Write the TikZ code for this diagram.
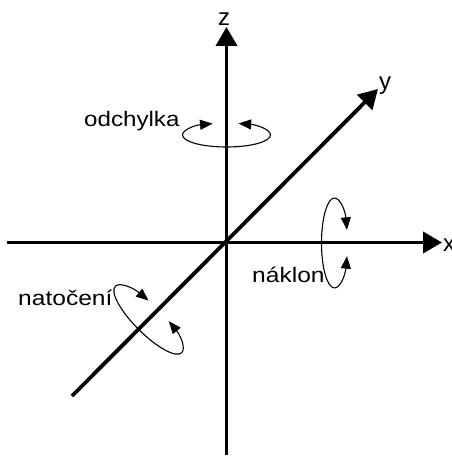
\documentclass[tikz,border=0pt]{standalone}
\usepackage{fontspec}
\usepackage{graphicx}
\setmainfont{Liberation Sans}
\usetikzlibrary{arrows.meta}
\begin{document}
\begin{tikzpicture}[x=1pt,y=-1pt,
  axis/.style={line width=3.8pt, -{Triangle[length=19pt,width=21pt]}},
  rot/.style={line width=1.1pt},
  rota/.style={rot, -{Triangle[length=12.5pt,width=10pt]}},
  lbl/.style={font=\fontsize{21}{25}\selectfont, inner sep=0pt, anchor=base west},
  axlbl/.style={font=\fontsize{24}{28}\selectfont, inner sep=0pt, anchor=base west}]
\useasboundingbox (0,0) rectangle (451,457);
% axes
\coordinate (xS) at (7,242.5);
\coordinate (xE) at (442,242.5);
\coordinate (zS) at (226.5,455);
\coordinate (zE) at (226.5,27);
\coordinate (yS) at (72,396);
\coordinate (yE) at (378,89);
\draw[axis] (xS) -- (xE);
\draw[axis] (zS) -- (zE);
\draw[axis] (yS) -- (yE);
% odchylka (about z)
\coordinate (o1) at (182.5,135);
\coordinate (o2) at (270.5,135);
\draw[rot] (o1) arc[start angle=180, end angle=0, x radius=44, y radius=12];
\draw[rota] (o1) arc[start angle=180, end angle=251.5, x radius=44, y radius=12];
\draw[rota] (o2) arc[start angle=360, end angle=286, x radius=44, y radius=12];
% naklon (about x)
\coordinate (n1) at (334.5,198);
\coordinate (n2) at (334.5,288);
\draw[rot] (n1) arc[start angle=270, end angle=90, x radius=13, y radius=45];
\draw[rota] (n1) arc[start angle=270, end angle=343, x radius=13, y radius=45];
\draw[rota] (n2) arc[start angle=90, end angle=17, x radius=13, y radius=45];
% natoceni (about y)
\begin{scope}[shift={(148.5,319.5)}, rotate=-45]
  \coordinate (t1) at (-47,0);
  \coordinate (t2) at (47,0);
  \draw[rot] (t1) arc[start angle=180, end angle=0, x radius=47, y radius=14];
  \draw[rota] (t1) arc[start angle=180, end angle=253.5, x radius=47, y radius=14];
  \draw[rota] (t2) arc[start angle=360, end angle=289.4, x radius=47, y radius=14];
\end{scope}
% labels
\node[lbl] (lo) at (84,127) {\scalebox{1.15}[1]{odchylka}};
\node[lbl] (ln) at (18,305) {\scalebox{1.17}[1]{natočení}};
\node[lbl] (lk) at (252,282) {\scalebox{1.17}[1]{náklon}};
\node[axlbl] (lz) at (218,26) {z};
\node[axlbl] (ly) at (379,90) {y};
\node[axlbl] (lx) at (443,251) {x};
\end{tikzpicture}
\end{document}
